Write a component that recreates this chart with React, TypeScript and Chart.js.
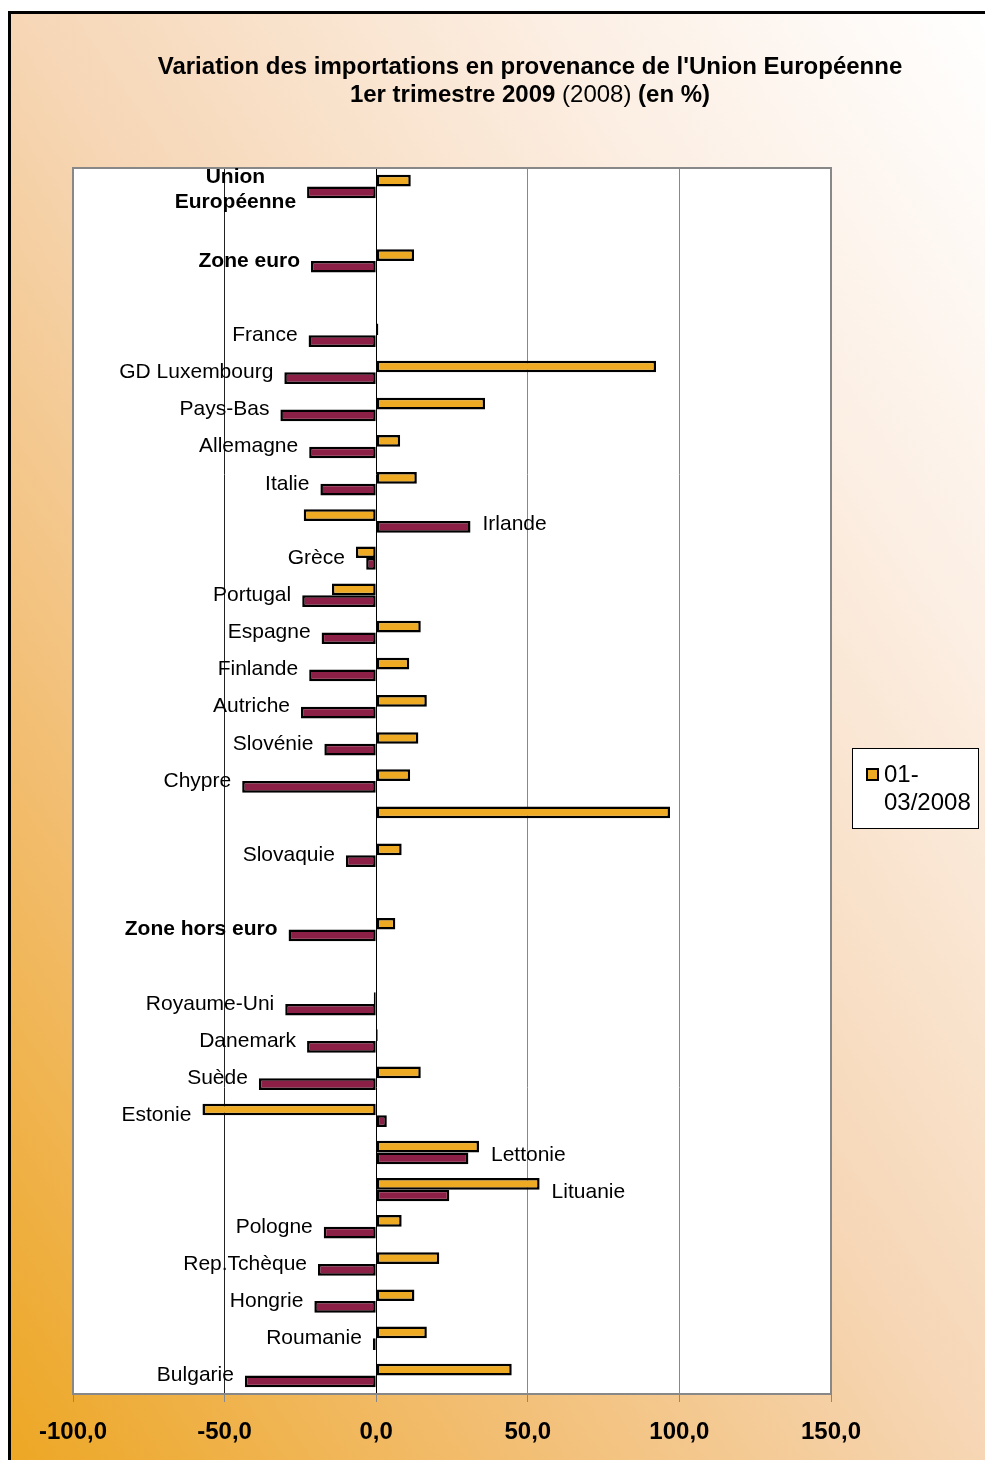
import React, { useEffect, useRef } from 'react';
import { Chart, registerables } from 'chart.js';

Chart.register(...registerables);

const FONT = "'Liberation Sans', Arial, sans-serif";

const categories: string[] = [
  'Union\nEuropéenne', '', 'Zone euro', '', 'France', 'GD Luxembourg', 'Pays-Bas',
  'Allemagne', 'Italie', 'Irlande', 'Grèce', 'Portugal', 'Espagne', 'Finlande',
  'Autriche', 'Slovénie', 'Chypre', '', 'Slovaquie', '', 'Zone hors euro', '',
  'Royaume-Uni', 'Danemark', 'Suède', 'Estonie', 'Lettonie', 'Lituanie', 'Pologne',
  'Rep.Tchèque', 'Hongrie', 'Roumanie', 'Bulgarie',
];

const series2008: (number | null)[] = [
  11.4, null, 12.5, null, 0.7, 92.3, 35.9, 7.9, 13.4, -23.9, -6.7, -14.6, 14.7, 10.9,
  16.7, 13.9, 11.2, 96.9, 8.4, null, 6.3, null, -0.8, 0.5, 14.7, -57.3, 33.9, 53.9,
  8.4, 20.8, 12.6, 16.7, 44.7,
];

const series2009: (number | null)[] = [
  -22.8, null, -21.5, null, -22.3, -30.3, -31.6, -22.1, -18.4, 31.1, -3.3, -24.4, -18.0,
  -22.1, -24.8, -17.1, -44.2, null, -10.0, null, -28.9, null, -30.0, -22.8, -38.7, 3.5,
  30.4, 24.1, -17.3, -19.2, -20.4, -1.1, -43.3,
];

const boldCategories: string[] = ['Union\nEuropéenne', 'Zone euro', 'Zone hors euro'];
const rightLabelCategories: string[] = ['Irlande', 'Lettonie', 'Lituanie'];

const xTicks: number[] = [-100, -50, 0, 50, 100, 150];

const seriesNames: string[] = ['01-03/2008', '01-03/2009'];
const legendLines: string[] = ['01-', '03/2008'];

const titleLine1 = "Variation des importations en provenance de l'Union Européenne";
const titleLine2: [string, boolean][] = [
  ['1er trimestre 2009 ', true],
  ['(2008)', false],
  [' (en %)', true],
];

const ORANGE = '#EEAA22';
const MAROON = '#8C1F45';

const bgPlugin = {
  id: 'bgPlugin',
  beforeDraw(chart: any) {
    const { ctx, width, height, chartArea } = chart;
    ctx.save();
    ctx.fillStyle = '#ffffff';
    ctx.fillRect(0, 0, width, height);
    const x0 = 9.5;
    const y0 = 12.5;
    const w = width - x0 + 4;
    const h = height - y0 + 4;
    ctx.save();
    ctx.translate(x0, y0);
    ctx.scale(w / 1000, h / 1000);
    const g = ctx.createLinearGradient(0, 1000, 1000, 0);
    g.addColorStop(0, '#EDA724');
    g.addColorStop(0.25, '#F2BD70');
    g.addColorStop(0.5, '#F6D6B5');
    g.addColorStop(0.78, '#FCEFE4');
    g.addColorStop(1, '#FFFFFF');
    ctx.fillStyle = g;
    ctx.fillRect(0, 0, 1000, 1000);
    ctx.restore();
    ctx.strokeStyle = '#000';
    ctx.lineWidth = 3;
    ctx.strokeRect(x0, y0, width + 20, height + 20);
    ctx.fillStyle = '#ffffff';
    ctx.fillRect(chartArea.left, chartArea.top, chartArea.right - chartArea.left, chartArea.bottom - chartArea.top);
    ctx.restore();
  },
  beforeDatasetsDraw(chart: any) {
    const { ctx, chartArea } = chart;
    ctx.save();
    ctx.strokeStyle = '#888888';
    ctx.lineWidth = 2;
    ctx.strokeRect(chartArea.left, chartArea.top, chartArea.right - chartArea.left, chartArea.bottom - chartArea.top);
    ctx.restore();
  },
};

const textPlugin = {
  id: 'textPlugin',
  afterDraw(chart: any) {
    const { ctx, chartArea, scales } = chart;
    ctx.save();
    ctx.fillStyle = '#000';
    ctx.textBaseline = 'middle';

    // Title
    const cx = 530;
    ctx.font = `bold 24px ${FONT}`;
    ctx.textAlign = 'center';
    ctx.fillText(titleLine1, cx, 67);
    let total = 0;
    const widths: number[] = [];
    titleLine2.forEach(([t, b]) => {
      ctx.font = `${b ? 'bold ' : ''}24px ${FONT}`;
      const m = ctx.measureText(t).width;
      widths.push(m);
      total += m;
    });
    let x = cx - total / 2;
    ctx.textAlign = 'left';
    titleLine2.forEach(([t, b], i) => {
      ctx.font = `${b ? 'bold ' : ''}24px ${FONT}`;
      ctx.fillText(t, x, 95);
      x += widths[i];
    });

    // Category labels
    const m0 = chart.getDatasetMeta(0);
    const m1 = chart.getDatasetMeta(1);
    categories.forEach((label, i) => {
      if (!label) return;
      const bold = boldCategories.includes(label);
      ctx.font = `${bold ? 'bold ' : ''}21px ${FONT}`;
      const lines = label.split('\n');
      const yc = scales.y.getPixelForValue(i);
      const zero = scales.x.getPixelForValue(0);
      const pts: number[] = [zero];
      [m0.data[i], m1.data[i]].forEach((el: any, k: number) => {
        const v = k === 0 ? series2008[i] : series2009[i];
        if (el && v !== null && isFinite(el.x)) pts.push(el.x);
      });
      const lineH = 25;
      const blockW = Math.max(...lines.map((l) => ctx.measureText(l).width));
      const right = rightLabelCategories.includes(label);
      let centerX: number;
      let yOff = lines.length > 1 ? 3 : 0;
      if (right) {
        const anchor = Math.max(...pts) + 12;
        centerX = anchor + blockW / 2;
        yOff = 3;
      } else {
        const anchor = Math.min(...pts) - 11;
        centerX = anchor - blockW / 2;
      }
      ctx.textAlign = 'center';
      lines.forEach((l, j) => {
        const ly = yc + yOff + (j - (lines.length - 1) / 2) * lineH;
        ctx.fillText(l, centerX, ly);
      });
    });

    // Legend
    const lx = chartArea.right + 21;
    const ly = 748;
    const lw = 126;
    const lh = 80;
    ctx.fillStyle = '#ffffff';
    ctx.fillRect(lx, ly, lw, lh);
    ctx.strokeStyle = '#000';
    ctx.lineWidth = 1;
    ctx.strokeRect(lx + 0.5, ly + 0.5, lw, lh);
    ctx.fillStyle = ORANGE;
    ctx.fillRect(lx + 15, ly + 21, 11, 11);
    ctx.lineWidth = 2;
    ctx.strokeRect(lx + 15, ly + 21, 11, 11);
    ctx.fillStyle = '#000';
    ctx.font = `24px ${FONT}`;
    ctx.textAlign = 'left';
    ctx.fillText(legendLines[0], lx + 32, ly + 27);
    ctx.fillText(legendLines[1], lx + 32, ly + 55);
    ctx.restore();
  },
};

export default function App() {
  const canvasRef = useRef<HTMLCanvasElement | null>(null);

  useEffect(() => {
    if (!canvasRef.current) return;
    const chart = new Chart(canvasRef.current, {
      type: 'bar',
      data: {
        labels: categories.map((c, i) => c || `#${i}`),
        datasets: [
          {
            label: seriesNames[0],
            data: series2008 as any,
            backgroundColor: ORANGE,
            borderColor: '#000',
            borderWidth: 2.5,
            borderSkipped: false,
          },
          {
            label: seriesNames[1],
            data: series2009 as any,
            backgroundColor: MAROON,
            borderColor: '#000',
            borderWidth: 2.5,
            borderSkipped: false,
          },
        ],
      },
      options: {
        indexAxis: 'y',
        responsive: false,
        animation: false,
        devicePixelRatio: 1,
        datasets: {
          bar: { categoryPercentage: 0.63, barPercentage: 1.0 },
        },
        layout: { padding: { left: 73, right: 154, top: 168, bottom: 16 } },
        plugins: {
          legend: { display: false },
          title: { display: false },
          tooltip: { enabled: false },
        },
        scales: {
          x: {
            type: 'linear',
            min: xTicks[0],
            max: xTicks[xTicks.length - 1],
            afterBuildTicks: (s: any) => {
              s.ticks = xTicks.map((v) => ({ value: v }));
            },
            afterFit: (s: any) => {
              s.height = 50;
            },
            ticks: {
              color: '#000',
              padding: 16,
              font: { family: FONT, size: 24, weight: 'bold' },
              callback: (v: any) => Number(v).toFixed(1).replace('.', ','),
            },
            grid: {
              drawTicks: true,
              tickLength: 8,
              tickColor: '#888888',
              lineWidth: 1,
              color: (c: any) => {
                const v = c.tick ? c.tick.value : null;
                if (v === 0) return '#000000';
                if (v === -50) return '#222222';
                return '#888888';
              },
            },
            border: { display: false },
          },
          y: {
            type: 'category',
            display: false,
            grid: { display: false },
          },
        },
      } as any,
      plugins: [bgPlugin, textPlugin],
    });
    return () => chart.destroy();
  }, []);

  return (
    <div style={{ position: 'absolute', left: 0, top: 0, width: 985, height: 1460 }}>
      <canvas ref={canvasRef} width={985} height={1460} style={{ display: 'block' }} />
    </div>
  );
}
